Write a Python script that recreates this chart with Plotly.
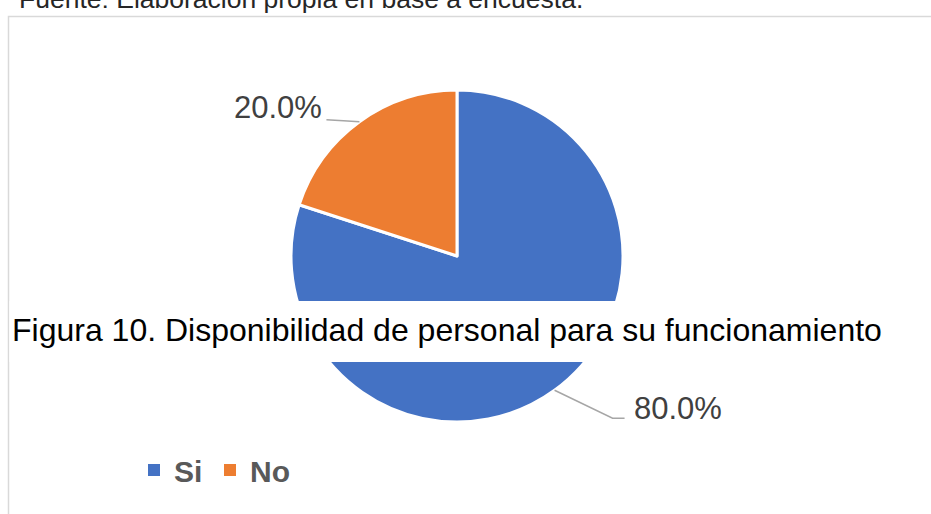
import math
import plotly.graph_objects as go

# ---- data ----
categories = ["Si", "No"]
values = [80, 20]
label_texts = ["80.0%", "20.0%"]
colors = ["#4472C4", "#ED7D31"]
caption = "Figura 10. Disponibilidad de personal para su funcionamiento"
source_text = "Fuente: Elaboración propia en base a encuesta."

# ---- layout geometry (pixels) ----
W, H = 931, 514
CX, CY, R = 457, 256, 166

def px(x):
    return x / W

def py(y):
    return 1 - y / H

fig = go.Figure()
fig.add_trace(go.Pie(
    labels=categories,
    values=values,
    sort=False,
    direction="clockwise",
    rotation=0,
    marker=dict(colors=colors, line=dict(color="white", width=3)),
    textinfo="none",
    hoverinfo="label+percent",
    domain=dict(x=[px(CX - R), px(CX + R)], y=[py(CY + R), py(CY - R)]),
    showlegend=False,
))

# legend entries (square markers like the reference), one legend box per entry
legend_ids = ["legend", "legend2"]
for name, col, lg in zip(categories, colors, legend_ids):
    fig.add_trace(go.Scatter(x=[None], y=[None], mode="markers", name=name,
                             marker=dict(symbol="square", size=12, color=col),
                             hoverinfo="skip", showlegend=True, legend=lg))

# label placement styles per slice: (elbow dx, elbow dy, end dx, end dy, text x offset, text y offset, anchor)
label_styles = [
    (58, 28, 70, 28, 77, 18, "left"),
    (-16, -1, -33, -2, -35, -14, "right"),
]

shapes = []
annotations = []
total = sum(values)
cum = 0
for i, v in enumerate(values):
    mid = (cum + v / 2) / total
    cum += v
    a = 2 * math.pi * mid
    ex = CX + R * math.sin(a)
    ey = CY - R * math.cos(a)
    edx, edy, ndx, ndy, tdx, tdy, anc = label_styles[i]
    pts = [(ex, ey), (ex + edx, ey + edy), (ex + ndx, ey + ndy)]
    path = "M " + " L ".join(f"{px(x)},{py(y)}" for x, y in pts)
    shapes.append(dict(type="path", xref="paper", yref="paper", path=path,
                       line=dict(color="#A6A6A6", width=1.5)))
    annotations.append(dict(x=px(ex + tdx), y=py(ey + tdy), xref="paper", yref="paper",
                            text=label_texts[i], showarrow=False, xanchor=anc, yanchor="middle",
                            font=dict(family="Liberation Sans, Arial", size=31, color="#404040")))

# chart border (light gray, extends past the right and bottom edges)
shapes.insert(0, dict(type="rect", xref="paper", yref="paper",
                      x0=px(8.5), y0=py(530), x1=px(950), y1=py(16.5),
                      line=dict(color="#D9D9D9", width=1.5), fillcolor="rgba(0,0,0,0)", layer="below"))
# white caption box over the pie
shapes.append(dict(type="rect", xref="paper", yref="paper",
                   x0=px(9.5), y0=py(362), x1=px(931), y1=py(301),
                   line=dict(width=0), fillcolor="white", layer="above"))

annotations.append(dict(x=px(10), y=py(330), xref="paper", yref="paper", text=caption,
                        showarrow=False, xanchor="left", yanchor="middle",
                        font=dict(family="Liberation Sans, Arial", size=32, color="#000000")))
annotations.append(dict(x=px(17), y=py(-1), xref="paper", yref="paper", text=source_text,
                        showarrow=False, xanchor="left", yanchor="middle",
                        font=dict(family="Liberation Sans, Arial", size=26.5, color="#262626")))

legend_style = dict(orientation="h", yanchor="middle", xanchor="left", y=py(470),
                    font=dict(family="Liberation Sans, Arial", size=30, color="#595959", weight="bold"),
                    bgcolor="rgba(0,0,0,0)")

fig.update_layout(
    width=W, height=H,
    margin=dict(l=0, r=0, t=0, b=0),
    paper_bgcolor="white",
    plot_bgcolor="white",
    xaxis=dict(visible=False),
    yaxis=dict(visible=False),
    shapes=shapes,
    annotations=annotations,
    legend=dict(x=px(134), **legend_style),
    legend2=dict(x=px(210), **legend_style),
)

fig.write_html("out.html", config={"displayModeBar": False},
               post_script="document.body.style.margin='0px';")
